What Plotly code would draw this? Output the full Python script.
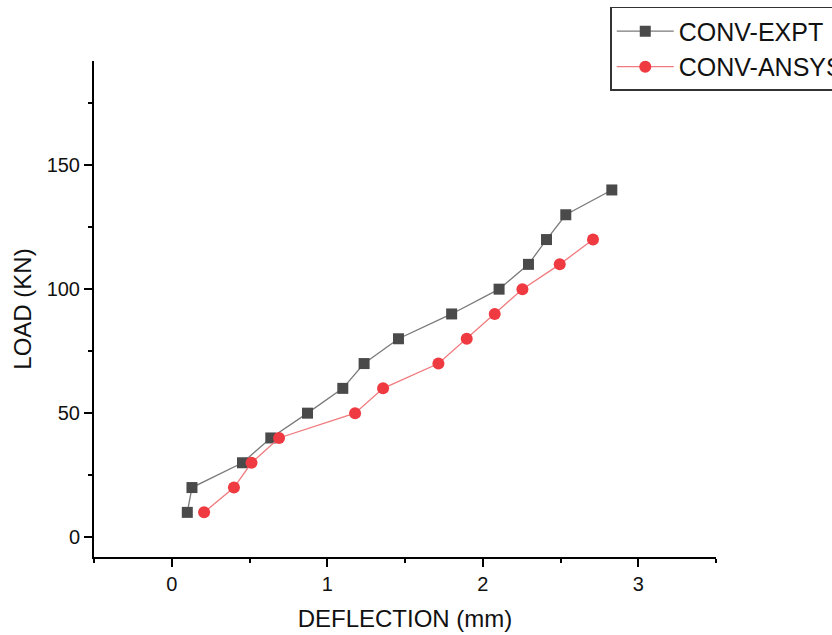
import plotly.graph_objects as go

# Data
expt_x = [0.10, 0.13, 0.455, 0.637, 0.873, 1.10, 1.237, 1.458, 1.80, 2.105, 2.294, 2.41, 2.534, 2.83]
expt_y = [10, 20, 30, 40, 50, 60, 70, 80, 90, 100, 110, 120, 130, 140]
ansys_x = [0.208, 0.40, 0.513, 0.69, 1.179, 1.359, 1.715, 1.897, 2.077, 2.255, 2.495, 2.709]
ansys_y = [10, 20, 30, 40, 50, 60, 70, 80, 90, 100, 110, 120]

FONT = "Arial, Liberation Sans, sans-serif"

fig = go.Figure()
fig.add_trace(go.Scatter(
    x=expt_x, y=expt_y, mode="lines+markers", name="CONV-EXPT",
    line=dict(color="#7a7a7a", width=1.3),
    marker=dict(symbol="square", size=11, color="#4a4a4a"),
))
fig.add_trace(go.Scatter(
    x=ansys_x, y=ansys_y, mode="lines+markers", name="CONV-ANSYS",
    line=dict(color="#f07a7e", width=1.3),
    marker=dict(symbol="circle", size=12, color="#ee3a40"),
))

fig.update_layout(
    width=832, height=635,
    paper_bgcolor="white", plot_bgcolor="white",
    margin=dict(l=94, r=116, t=61, b=78, autoexpand=False),
    font=dict(family=FONT, color="#111111"),
    showlegend=True,
    legend=dict(
        x=0.83, y=1.109, xanchor="left", yanchor="top",
        bordercolor="#333333", borderwidth=1.5,
        font=dict(size=25, family=FONT, color="#111111"),
        bgcolor="white",
        tracegroupgap=0,
        itemwidth=57,
    ),
    xaxis=dict(
        range=[-0.5, 3.5], tick0=0, dtick=1,
        showgrid=False, zeroline=False,
        showline=True, linecolor="black", linewidth=2,
        ticks="outside", ticklen=8, tickwidth=2, tickcolor="black",
        tickfont=dict(size=20),
        minor=dict(ticks="outside", ticklen=4, tickwidth=2, tickcolor="black", dtick=0.5, tick0=0, showgrid=False),
        title=dict(text="DEFLECTION (mm)", font=dict(size=24), standoff=16),
    ),
    yaxis=dict(
        range=[-8, 192], tick0=0, dtick=50,
        showgrid=False, zeroline=False,
        showline=True, linecolor="black", linewidth=2,
        ticks="outside", ticklen=8, tickwidth=2, tickcolor="black",
        tickfont=dict(size=20),
        minor=dict(ticks="outside", ticklen=4, tickwidth=2, tickcolor="black", dtick=25, tick0=0, showgrid=False),
        title=dict(text="LOAD (KN)", font=dict(size=24), standoff=8),
    ),
)

fig.write_html("out.html")
